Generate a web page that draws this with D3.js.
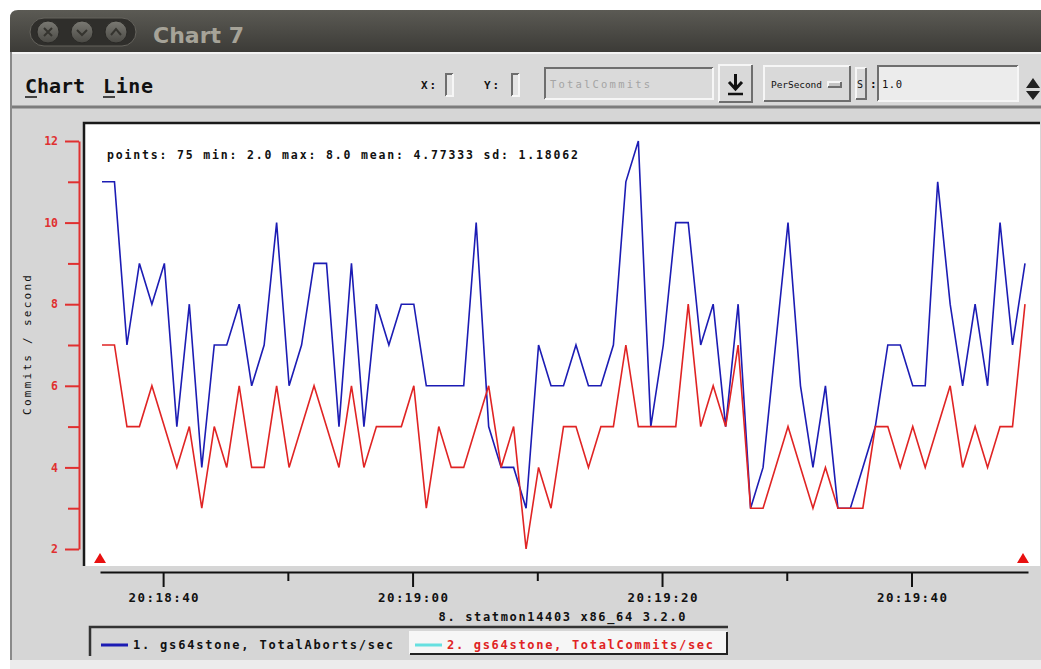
<!DOCTYPE html>
<html>
<head>
<meta charset="utf-8">
<script src="https://cdn.jsdelivr.net/npm/d3@7"></script>
<style>
body { margin: 0; background: #ffffff; }
svg { display: block; }
text { font-family: "DejaVu Sans Mono", monospace; }
</style>
</head>
<body>
<div id="chart"></div>
<script>
// one sample per second, 75 samples
const abortsPerSec = [11, 11, 7, 9, 8, 9, 5, 8, 4, 7, 7, 8, 6, 7, 10, 6, 7, 9, 9, 5,
    9, 5, 8, 7, 8, 8, 6, 6, 6, 6, 10, 5, 4, 4, 3, 7, 6, 6, 7, 6,
    6, 7, 11, 12, 5, 7, 10, 10, 7, 8, 5, 8, 3, 4, 7, 10, 6, 4, 6, 3,
    3, 4, 5, 7, 7, 6, 6, 11, 8, 6, 8, 6, 10, 7, 9];
const commitsPerSec = [7, 7, 5, 5, 6, 5, 4, 5, 3, 5, 4, 6, 4, 4, 6, 4, 5, 6, 5, 4,
    6, 4, 5, 5, 5, 6, 3, 5, 4, 4, 5, 6, 4, 5, 2, 4, 3, 5, 5, 4,
    5, 5, 7, 5, 5, 5, 5, 8, 5, 6, 5, 7, 3, 3, 4, 5, 4, 3, 4, 3,
    3, 3, 5, 5, 4, 5, 4, 5, 6, 4, 5, 4, 5, 5, 8];
const seriesLabels = ["1. gs64stone, TotalAborts/sec", "2. gs64stone, TotalCommits/sec"];
const seriesColors = ["#1c1cb4", "#e02424"];
const legendSwatches = ["#1c1cb4", "#66e0e0"];
const yMajorTicks = [2, 4, 6, 8, 10, 12];
const yMinorTicks = [3, 5, 7, 9, 11];
const firstSampleTime = "20:18:35.100";
const lastSampleTime = "20:19:49.100";
const statsText = "points: 75 min: 2.0 max: 8.0 mean: 4.77333 sd: 1.18062";
const hostText = "8. statmon14403 x86_64 3.2.0";

const W = 1041, H = 669;
const svg = d3.select("#chart").append("svg").attr("width", W).attr("height", H);

// ---- window frame ----
const defs = svg.append("defs");
const tg = defs.append("linearGradient").attr("id", "titleGrad").attr("x1", 0).attr("y1", 0).attr("x2", 0).attr("y2", 1);
tg.append("stop").attr("offset", "0%").attr("stop-color", "#5b5a54");
tg.append("stop").attr("offset", "100%").attr("stop-color", "#3c3b37");
const bg = defs.append("linearGradient").attr("id", "btnGrad").attr("x1", 0).attr("y1", 0).attr("x2", 0).attr("y2", 1);
bg.append("stop").attr("offset", "0%").attr("stop-color", "#7a7973");
bg.append("stop").attr("offset", "100%").attr("stop-color", "#4a4944");

svg.append("rect").attr("x", 10).attr("y", 50).attr("width", W).attr("height", 612).attr("fill", "#d6d6d6");
svg.append("path")
    .attr("d", "M10,52 L10,18 Q10,10 18,10 L1060,10 L1060,52 Z")
    .attr("fill", "url(#titleGrad)");
svg.append("rect").attr("x", 10).attr("y", 660).attr("width", W).attr("height", 9).attr("fill", "#ececec");
svg.append("line").attr("x1", 11).attr("x2", 11).attr("y1", 52).attr("y2", 660).attr("stroke", "#8a8a8a").attr("stroke-width", 2);

// title buttons
const tb = svg.append("g");
tb.append("rect").attr("x", 30).attr("y", 18).attr("width", 106).attr("height", 28).attr("rx", 14)
    .attr("fill", "#2f2e2b").attr("stroke", "#65635d");
[48, 82, 116].forEach((cx, i) => {
    tb.append("circle").attr("cx", cx).attr("cy", 32).attr("r", 11).attr("fill", "url(#btnGrad)").attr("stroke", "#2a2926");
    const p = i === 0 ? `M${cx - 4},28 L${cx + 4},36 M${cx + 4},28 L${cx - 4},36`
        : i === 1 ? `M${cx - 5},30 L${cx},35 L${cx + 5},30`
        : `M${cx - 5},35 L${cx},29 L${cx + 5},35`;
    tb.append("path").attr("d", p).attr("fill", "none").attr("stroke", "#35342f").attr("stroke-width", 2);
});
svg.append("text").attr("x", 153).attr("y", 43)
    .style("font-family", "'DejaVu Sans', sans-serif").attr("font-weight", "bold").attr("font-size", 22)
    .attr("fill", "#a6a398").text("Chart 7");

// ---- toolbar ----
svg.append("rect").attr("x", 12).attr("y", 52).attr("width", W).attr("height", 55).attr("fill", "#d9d9d9");
svg.append("line").attr("x1", 12).attr("x2", W).attr("y1", 53).attr("y2", 53).attr("stroke", "#f4f4f4").attr("stroke-width", 2);
svg.append("line").attr("x1", 12).attr("x2", W).attr("y1", 107).attr("y2", 107).attr("stroke", "#7c7c7c").attr("stroke-width", 3);

function bevel(x, y, w, h, raised, fill, darkColor) {
    const g = svg.append("g");
    const light = "#f6f6f6", dark = darkColor || "#6e6e6e";
    g.append("rect").attr("x", x).attr("y", y).attr("width", w).attr("height", h).attr("fill", fill);
    g.append("path").attr("d", `M${x},${y + h} L${x},${y} L${x + w},${y}`).attr("fill", "none")
        .attr("stroke", raised ? light : dark).attr("stroke-width", 2);
    g.append("path").attr("d", `M${x + w},${y} L${x + w},${y + h} L${x},${y + h}`).attr("fill", "none")
        .attr("stroke", raised ? dark : light).attr("stroke-width", 2);
    return g;
}

// fixed-width text helper (the app uses a wide pixel font)
function label(x, yy, str, size, width, opts) {
    const t = svg.append("text").attr("x", x).attr("y", yy).attr("font-size", size)
        .attr("fill", (opts && opts.fill) || "#111").text(str);
    if (width) t.attr("textLength", width).attr("lengthAdjust", "spacing");
    if (opts && opts.bold) t.attr("font-weight", "bold");
    if (opts && opts.anchor) t.attr("text-anchor", opts.anchor);
    return t;
}

label(25, 93, "Chart", 20, 60, { bold: true });
label(103, 93, "Line", 20, 50, { bold: true });
svg.append("line").attr("x1", 25).attr("x2", 37).attr("y1", 97).attr("y2", 97).attr("stroke", "#111").attr("stroke-width", 1.5);
svg.append("line").attr("x1", 103).attr("x2", 115).attr("y1", 97).attr("y2", 97).attr("stroke", "#111").attr("stroke-width", 1.5);

label(421, 89, "X:", 11, 15, { bold: true });
bevel(446, 74, 7, 22, false, "#e4e4e4");
label(484, 89, "Y:", 11, 15, { bold: true });
bevel(512, 74, 7, 22, false, "#e4e4e4");
bevel(545, 68, 168, 31, false, "#dadada");
label(550, 88, "TotalCommits", 10.5, 100, { fill: "#a4a4a4" });
bevel(719, 65, 33, 37, true, "#d9d9d9");
svg.append("path").attr("d", "M735.5,74 L735.5,88 M729,82 L735.5,89 L742,82").attr("fill", "none").attr("stroke", "#111").attr("stroke-width", 3);
svg.append("line").attr("x1", 728).attr("x2", 743).attr("y1", 94).attr("y2", 94).attr("stroke", "#111").attr("stroke-width", 2.5);
bevel(764, 66, 86, 35, true, "#d9d9d9");
label(771, 88, "PerSecond", 9.5, 51);
bevel(828, 82, 13, 5, true, "#c4c4c4");
bevel(856, 68, 10, 31, true, "#d9d9d9");
label(857, 88, "S", 10);
label(870, 88, ":", 11, null, { bold: true });
bevel(878, 66, 140, 35, false, "#ececec");
label(882, 88, "1.0", 10.5, 20);
svg.append("path").attr("d", "M1026,88 L1033,78 L1040,88 Z M1026,91 L1033,100 L1040,91 Z").attr("fill", "#222");

// ---- plot ----
const plot = { left: 84, top: 123, right: 1040, bottom: 566 };
svg.append("rect").attr("x", plot.left).attr("y", plot.top)
    .attr("width", plot.right - plot.left).attr("height", plot.bottom - plot.top).attr("fill", "#ffffff");
svg.append("path").attr("d", `M${plot.left},${plot.bottom} L${plot.left},${plot.top} L${plot.right},${plot.top}`)
    .attr("fill", "none").attr("stroke", "#1a1a1a").attr("stroke-width", 2.5);

const y = d3.scaleLinear().domain([2, 12]).range([549, 141]);
const xIdx = d3.scaleLinear().domain([0, abortsPerSec.length - 1]).range([102, 1025]);
const parseT = d3.timeParse("%H:%M:%S.%L");
const xTime = d3.scaleTime().domain([parseT(firstSampleTime), parseT(lastSampleTime)]).range([102, 1025]);
const xAxisScale = xTime.copy().domain([xTime.invert(100), xTime.invert(1028)]).range([100, 1028]);

label(107, 159, statsText, 11.5, 471, { bold: true });

const line = d3.line().x((d, i) => xIdx(i)).y(d => y(d));
[abortsPerSec, commitsPerSec].forEach((s, i) => {
    svg.append("path").datum(s).attr("d", line).attr("fill", "none")
        .attr("stroke", seriesColors[i]).attr("stroke-width", 1.6).attr("stroke-linejoin", "miter");
});

// end markers
[0, abortsPerSec.length - 1].forEach(i => {
    const cx = xIdx(i) - 2;
    svg.append("path").attr("d", `M${cx - 6},563 L${cx},553 L${cx + 6},563 Z`).attr("fill", "#e81010");
});

// ---- y axis (red) ----
const yMajor = svg.append("g").attr("transform", "translate(79,0)")
    .call(d3.axisLeft(y).tickValues(yMajorTicks).tickSize(14).tickSizeOuter(0).tickPadding(7));
const yMinor = svg.append("g").attr("transform", "translate(79,0)")
    .call(d3.axisLeft(y).tickValues(yMinorTicks).tickSize(11).tickFormat(""));
[yMajor, yMinor].forEach(g => {
    g.selectAll("path, line").attr("stroke", "#e03030").attr("stroke-width", 2);
    g.selectAll("text").attr("fill", "#e03030").attr("font-size", 11.5).attr("font-weight", "bold")
        .style("font-family", "'DejaVu Sans Mono', monospace");
});
yMinor.select(".domain").remove();

label(0, 0, "Commits / second", 11, 140, { anchor: "middle" })
    .attr("x", null).attr("y", null).attr("transform", "translate(31,345) rotate(-90)");

// ---- x axis ----
const xMajor = svg.append("g").attr("transform", "translate(0,572)")
    .call(d3.axisBottom(xAxisScale).ticks(d3.timeSecond.every(20)).tickSize(15).tickSizeOuter(0)
        .tickPadding(6).tickFormat(d3.timeFormat("%H:%M:%S")));
const xMinor = svg.append("g").attr("transform", "translate(0,572)")
    .call(d3.axisBottom(xAxisScale).tickValues(xAxisScale.ticks(d3.timeSecond.every(10)).filter(d => d.getSeconds() % 20 !== 0))
        .tickSize(9).tickFormat(""));
xMinor.select(".domain").remove();
[xMajor, xMinor].forEach(g => {
    g.selectAll("path, line").attr("stroke", "#111").attr("stroke-width", 2);
    g.selectAll("text").attr("fill", "#111").attr("font-size", 12.5).attr("font-weight", "bold")
        .attr("textLength", 70).attr("lengthAdjust", "spacing")
        .style("font-family", "'DejaVu Sans Mono', monospace");
});

label(562, 621, hostText, 12, 247, { bold: true, anchor: "middle" });

// ---- legend ----
svg.append("path").attr("d", "M90,656 L90,627 L728,627").attr("fill", "none").attr("stroke", "#333").attr("stroke-width", 2.5);
bevel(410, 632, 317, 22, true, "#f6f6f6", "#222");
const legendX = [101, 415];
const legendW = [260, 266];
seriesLabels.forEach((lab, i) => {
    svg.append("line").attr("x1", legendX[i]).attr("x2", legendX[i] + 27).attr("y1", 645).attr("y2", 645)
        .attr("stroke", legendSwatches[i]).attr("stroke-width", 3);
    label(legendX[i] + 32, 649, lab, 12, legendW[i], { bold: true, fill: i === 0 ? "#111" : "#e02424" });
});
</script>
</body>
</html>
